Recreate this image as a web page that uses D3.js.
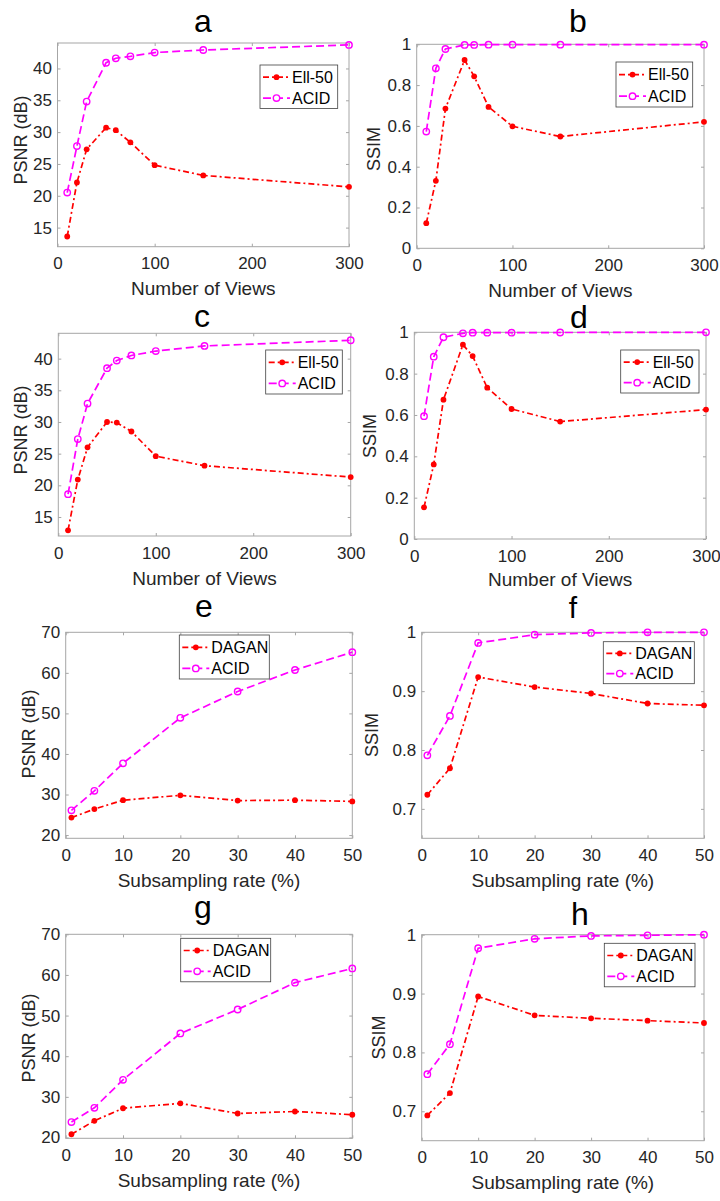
<!DOCTYPE html>
<html>
<head>
<meta charset="utf-8">
<script src="https://cdn.jsdelivr.net/npm/d3@7"></script>
<style>
  body { margin: 0; background: #fff; }
  svg { display: block; font-family: "Liberation Sans", Arial, sans-serif; }
</style>
</head>
<body>
<div id="chart"></div>
<script>
// x values
const views = [10, 20, 30, 50, 60, 75, 100, 150, 300];
const rates = [1, 5, 10, 20, 30, 40, 50];

// a, c : PSNR vs number of views
const psnrEllA  = [13.6, 22.1, 27.3, 30.7, 30.3, 28.4, 24.8, 23.2, 21.4];
const psnrAcidA = [20.5, 27.8, 34.8, 40.9, 41.6, 41.9, 42.5, 42.9, 43.7];
const psnrEllC  = [12.9, 20.9, 26.0, 30.0, 29.9, 28.5, 24.6, 23.1, 21.3];
const psnrAcidC = [18.6, 27.3, 32.9, 38.5, 39.7, 40.5, 41.2, 42.0, 42.9];
// b, d : SSIM vs number of views
const ssimEllB  = [0.123, 0.331, 0.685, 0.923, 0.843, 0.693, 0.598, 0.548, 0.620];
const ssimAcidB = [0.572, 0.882, 0.977, 0.997, 0.997, 0.998, 0.998, 0.998, 0.998];
const ssimEllD  = [0.153, 0.361, 0.674, 0.940, 0.885, 0.732, 0.629, 0.568, 0.626];
const ssimAcidD = [0.594, 0.882, 0.976, 0.995, 0.998, 0.998, 0.998, 0.999, 1.0];
// e, g : PSNR vs subsampling rate
const psnrDaganE = [24.3, 26.4, 28.6, 29.8, 28.5, 28.6, 28.3];
const psnrAcidE  = [26.1, 30.9, 37.7, 48.9, 55.4, 60.7, 65.1];
const psnrDaganG = [20.8, 24.1, 27.2, 28.4, 25.9, 26.4, 25.6];
const psnrAcidG  = [23.8, 27.3, 34.2, 45.6, 51.5, 58.1, 61.6];
// f, h : SSIM vs subsampling rate
const ssimDaganF = [0.724, 0.769, 0.924, 0.907, 0.896, 0.879, 0.876];
const ssimAcidF  = [0.791, 0.858, 0.982, 0.996, 0.999, 1.0, 1.0];
const ssimDaganH = [0.693, 0.731, 0.895, 0.863, 0.858, 0.854, 0.850];
const ssimAcidH  = [0.763, 0.814, 0.977, 0.993, 0.998, 0.999, 1.0];

// ticks
const viewTicks = [0, 100, 200, 300];
const rateTicks = [0, 10, 20, 30, 40, 50];
const psnrViewTicks = [15, 20, 25, 30, 35, 40];
const ssimViewTicks = [0, 0.2, 0.4, 0.6, 0.8, 1];
const psnrRateTicks = [20, 30, 40, 50, 60, 70];
const ssimRateTicks = [0.7, 0.8, 0.9, 1];

const viewsLabel = "Number of Views";
const rateLabel = "Subsampling rate (%)";

// layout of the 8 panels (box = x0, y0, x1, y1)
const panels = [
  {t: "a", tx: 203, ty: 32, box: [57.5, 43, 349, 246.7], xd: [0, 300], yd: [12, 44], xt: viewTicks, yt: psnrViewTicks,
   xs: views, s1: psnrEllA, s2: psnrAcidA, n1: "Ell-50", xl: viewsLabel, yl: "PSNR (dB)", ylx: 26.5, yly: 140,
   leg: [260, 65, 77.7, 43.5]},
  {t: "b", tx: 578, ty: 32, box: [416.7, 44.3, 704, 248.3], xd: [0, 300], yd: [0, 1], xt: viewTicks, yt: ssimViewTicks,
   xs: views, s1: ssimEllB, s2: ssimAcidB, n1: "Ell-50", xl: viewsLabel, yl: "SSIM", ylx: 380, yly: 149,
   leg: [616, 62, 76.7, 45]},
  {t: "c", tx: 202, ty: 327, box: [58.3, 333.3, 350.7, 536], xd: [0, 300], yd: [12, 44], xt: viewTicks, yt: psnrViewTicks,
   xs: views, s1: psnrEllC, s2: psnrAcidC, n1: "Ell-50", xl: viewsLabel, yl: "PSNR (dB)", ylx: 26.5, yly: 430,
   leg: [265.7, 350, 76.6, 44]},
  {t: "d", tx: 579, ty: 328, box: [414.3, 332.3, 706, 539], xd: [0, 300], yd: [0, 1], xt: viewTicks, yt: ssimViewTicks,
   xs: views, s1: ssimEllD, s2: ssimAcidD, n1: "Ell-50", xl: viewsLabel, yl: "SSIM", ylx: 376, yly: 436,
   leg: [620.7, 350, 78.3, 43], xlOff: 47},
  {t: "e", tx: 204, ty: 617, box: [65.7, 632.3, 352.3, 838.3], xd: [0, 50], yd: [19.2, 70], xt: rateTicks, yt: psnrRateTicks,
   xs: rates, s1: psnrDaganE, s2: psnrAcidE, n1: "DAGAN", xl: rateLabel, yl: "PSNR (dB)", ylx: 34.6, yly: 734,
   leg: [179.3, 635, 90, 44]},
  {t: "f", tx: 573, ty: 618, tsize: 30, box: [421.7, 632.3, 704, 838.3], xd: [0, 50], yd: [0.65, 1], xt: rateTicks, yt: ssimRateTicks,
   xs: rates, s1: ssimDaganF, s2: ssimAcidF, n1: "DAGAN", xl: rateLabel, yl: "SSIM", ylx: 378.3, yly: 735,
   leg: [603.3, 641.7, 91, 42]},
  {t: "g", tx: 203, ty: 918, box: [65.7, 934.3, 352.3, 1138.3], xd: [0, 50], yd: [19.8, 70], xt: rateTicks, yt: psnrRateTicks,
   xs: rates, s1: psnrDaganG, s2: psnrAcidG, n1: "DAGAN", xl: rateLabel, yl: "PSNR (dB)", ylx: 34.6, yly: 1038,
   leg: [180.7, 938.3, 90, 43.5]},
  {t: "h", tx: 580, ty: 925, box: [421.7, 934.7, 704, 1140.7], xd: [0, 50], yd: [0.65, 1], xt: rateTicks, yt: ssimRateTicks,
   xs: rates, s1: ssimDaganH, s2: ssimAcidH, n1: "DAGAN", xl: rateLabel, yl: "SSIM", ylx: 385, yly: 1037.5,
   leg: [604.3, 943.3, 90.7, 43.5]}
];

const W = 720, H = 1201;
const red = "#ff0000", mag = "#ff00ff";
const axisCol = "#a6a6a6", textCol = "#262626";
const fmt = d3.format("~g");

const svg = d3.select("#chart").append("svg")
  .attr("width", W).attr("height", H);

svg.append("rect").attr("width", W).attr("height", H).attr("fill", "#fff");

panels.forEach(p => {
  const [x0, y0, x1, y1] = p.box;
  const x = d3.scaleLinear().domain(p.xd).range([x0, x1]);
  const y = d3.scaleLinear().domain(p.yd).range([y1, y0]);
  const g = svg.append("g");

  // axes (matlab style: ticks inside, on all four sides)
  g.append("g").attr("transform", `translate(0,${y1})`)
    .call(d3.axisBottom(x).tickValues(p.xt).tickFormat(fmt).tickSizeInner(-3).tickSizeOuter(0).tickPadding(10.5));
  g.append("g").attr("transform", `translate(${x0},0)`)
    .call(d3.axisLeft(y).tickValues(p.yt).tickFormat(fmt).tickSizeInner(-3).tickSizeOuter(0).tickPadding(5.5));
  g.append("g").attr("transform", `translate(0,${y0})`)
    .call(d3.axisTop(x).tickValues(p.xt).tickFormat("").tickSizeInner(-3).tickSizeOuter(0));
  g.append("g").attr("transform", `translate(${x1},0)`)
    .call(d3.axisRight(y).tickValues(p.yt).tickFormat("").tickSizeInner(-3).tickSizeOuter(0));

  g.selectAll(".domain").remove();
  g.selectAll(".tick line").attr("stroke", axisCol);
  g.selectAll(".tick text").attr("fill", textCol).style("font-size", "17px")
    .style("font-family", "'Liberation Sans', Arial, sans-serif");

  g.append("rect")
    .attr("x", x0).attr("y", y0).attr("width", x1 - x0).attr("height", y1 - y0)
    .attr("fill", "none").attr("stroke", axisCol).attr("stroke-width", 1);

  // series
  const line = d3.line().x(d => x(d[0])).y(d => y(d[1]));
  const d1 = d3.zip(p.xs, p.s1), d2 = d3.zip(p.xs, p.s2);

  g.append("path").datum(d1).attr("d", line)
    .attr("fill", "none").attr("stroke", red).attr("stroke-width", 1.7)
    .attr("stroke-dasharray", "6,3,2,3");
  g.selectAll(".dot1").data(d1).enter().append("circle")
    .attr("cx", d => x(d[0])).attr("cy", d => y(d[1])).attr("r", 2.9)
    .attr("fill", red);

  g.append("path").datum(d2).attr("d", line)
    .attr("fill", "none").attr("stroke", mag).attr("stroke-width", 1.7)
    .attr("stroke-dasharray", "8,4");
  g.selectAll(".dot2").data(d2).enter().append("circle")
    .attr("cx", d => x(d[0])).attr("cy", d => y(d[1])).attr("r", 3.2)
    .attr("fill", "none").attr("stroke", mag).attr("stroke-width", 1.4);

  // legend
  const [lx, ly, lw, lh] = p.leg;
  const lg = g.append("g").attr("transform", `translate(${lx},${ly})`);
  lg.append("rect").attr("width", lw).attr("height", lh)
    .attr("fill", "#fff").attr("stroke", "#404040").attr("stroke-width", 0.8);
  const rows = [
    {name: p.n1, col: red, dash: "6,3,2,3", filled: true},
    {name: "ACID", col: mag, dash: "8,4", filled: false}
  ];
  rows.forEach((r, i) => {
    const cy = lh * (i === 0 ? 0.28 : 0.76);
    lg.append("line").attr("x1", 3).attr("x2", 30).attr("y1", cy).attr("y2", cy)
      .attr("stroke", r.col).attr("stroke-width", 1.7).attr("stroke-dasharray", r.dash);
    lg.append("circle").attr("cx", 16.5).attr("cy", cy).attr("r", r.filled ? 2.9 : 3.2)
      .attr("fill", r.filled ? r.col : "#fff").attr("stroke", r.filled ? "none" : r.col).attr("stroke-width", 1.4);
    lg.append("text").attr("x", 32).attr("y", cy).attr("dy", "0.36em")
      .attr("fill", "#000").style("font-size", "16px").text(r.name);
  });

  // labels
  g.append("text").attr("x", (x0 + x1) / 2).attr("y", y1 + (p.xlOff || 48.5))
    .attr("text-anchor", "middle").attr("fill", textCol).style("font-size", "19px").text(p.xl);
  g.append("text").attr("transform", `translate(${p.ylx},${p.yly}) rotate(-90)`)
    .attr("text-anchor", "middle").attr("fill", textCol).style("font-size", "18px").text(p.yl);
  g.append("text").attr("x", p.tx).attr("y", p.ty)
    .attr("text-anchor", "middle").attr("fill", "#000").style("font-size", (p.tsize || 32) + "px").text(p.t);
});
</script>
</body>
</html>
